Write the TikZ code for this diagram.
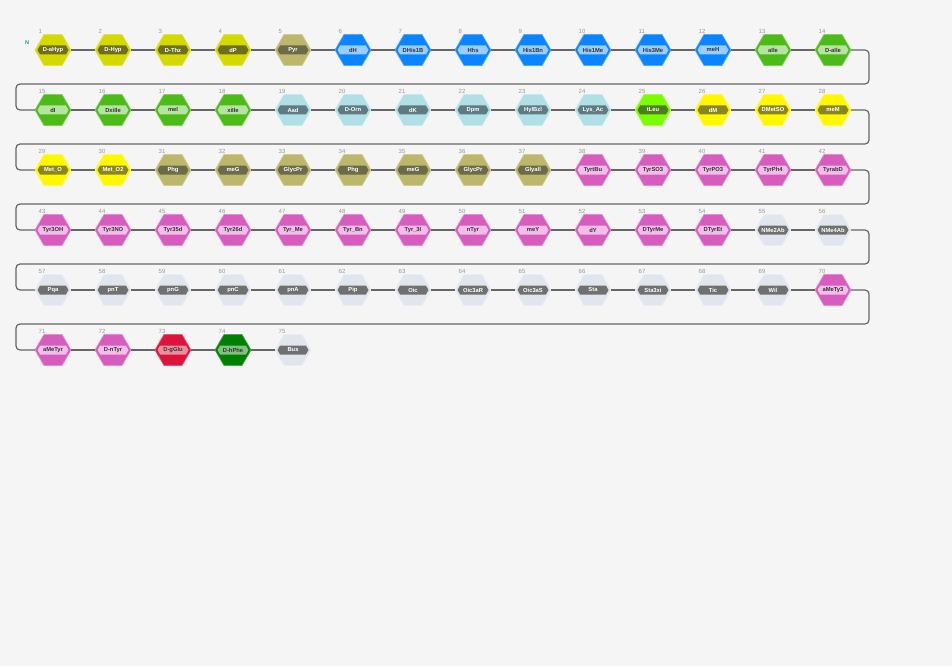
\documentclass[tikz,border=0pt]{standalone}
\usepackage{fontspec}
\setmainfont{Liberation Sans}
\usetikzlibrary{shapes.geometric,shapes.symbols,calc}
\definecolor{bgc}{HTML}{F5F5F5}
\definecolor{linec}{HTML}{666666}
\definecolor{numc}{HTML}{999999}
\definecolor{nterm}{HTML}{1A9A9A}
\definecolor{YGa}{HTML}{D4D900}\definecolor{YGb}{HTML}{6E6E1E}\definecolor{YGc}{HTML}{FFFFFF}
\definecolor{Ka}{HTML}{BDB76B}\definecolor{Kb}{HTML}{6B6B4B}\definecolor{Kc}{HTML}{FFFFFF}
\definecolor{Ba}{HTML}{0A84FF}\definecolor{Bb}{HTML}{99CCFF}\definecolor{Bc}{HTML}{333333}
\definecolor{Ga}{HTML}{4CBB17}\definecolor{Gb}{HTML}{B5E3A0}\definecolor{Gc}{HTML}{333333}
\definecolor{PBa}{HTML}{B0E0E6}\definecolor{PBb}{HTML}{5F7A80}\definecolor{PBc}{HTML}{FFFFFF}
\definecolor{LGa}{HTML}{7CFC00}\definecolor{LGb}{HTML}{4E7F1A}\definecolor{LGc}{HTML}{FFFFFF}
\definecolor{Ya}{HTML}{FFF700}\definecolor{Yb}{HTML}{8A861E}\definecolor{Yc}{HTML}{FFFFFF}
\definecolor{Ma}{HTML}{D65DBD}\definecolor{Mb}{HTML}{F2BDE8}\definecolor{Mc}{HTML}{333333}
\definecolor{Gra}{HTML}{E1E6EE}\definecolor{Grb}{HTML}{707070}\definecolor{Grc}{HTML}{FFFFFF}
\definecolor{Ra}{HTML}{DC143C}\definecolor{Rb}{HTML}{F08CA0}\definecolor{Rc}{HTML}{333333}
\definecolor{DGa}{HTML}{008000}\definecolor{DGb}{HTML}{80C080}\definecolor{DGc}{HTML}{333333}
\tikzset{
  hexa/.style={regular polygon, regular polygon sides=6, minimum size=36pt, inner sep=0pt, outer sep=0pt, line width=0.7pt},
  lbl/.style={shape=signal, signal to=west and east, signal pointer angle=120, minimum width=31pt, minimum height=9pt, inner sep=0pt, font=\bfseries\fontsize{5.8}{6}\selectfont},
  num/.style={inner sep=0pt, text=numc, font=\fontsize{6}{6}\selectfont},
  conn/.style={draw=linec, line width=1.2pt}
}
\begin{document}
\begin{tikzpicture}[x=1pt,y=-1pt]
\useasboundingbox[fill=bgc] (0,0) rectangle (952,666);
\node[inner sep=0pt, text=nterm, font=\bfseries\fontsize{5.5}{6}\selectfont] (N) at (27,43) {N};
\foreach \lab/\st [count=\i] in {
 D-aHyp/YG, D-Hyp/YG, D-Thz/YG, dP/YG, Pyr/K, dH/B, DHis1B/B, Hhs/B, His1Bn/B, His1Me/B, His3Me/B, meH/B, aIle/G, D-aIle/G,
 dI/G, DxiIle/G, meI/G, xiIle/G, Aad/PB, D-Orn/PB, dK/PB, Dpm/PB, HylBzl/PB, Lys\_Ac/PB, tLeu/LG, dM/Y, DMetSO/Y, meM/Y,
 Met\_O/Y, Met\_O2/Y, Phg/K, meG/K, GlycPr/K, Phg/K, meG/K, GlycPr/K, Glyall/K, TyrtBu/M, TyrSO3/M, TyrPO3/M, TyrPh4/M, TyrabD/M,
 Tyr3OH/M, Tyr3NO/M, Tyr35d/M, Tyr26d/M, Tyr\_Me/M, Tyr\_Bn/M, Tyr\_3I/M, nTyr/M, meY/M, dY/M, DTyrMe/M, DTyrEt/M, NMe2Ab/Gr, NMe4Ab/Gr,
 Pqa/Gr, pnT/Gr, pnG/Gr, pnC/Gr, pnA/Gr, Pip/Gr, Oic/Gr, Oic3aR/Gr, Oic3aS/Gr, Sta/Gr, Sta3xi/Gr, Tic/Gr, Wil/Gr, aMeTy3/M,
 aMeTyr/M, D-nTyr/M, D-gGlu/R, D-hPhe/DG, Bus/Gr} {
  \pgfmathtruncatemacro\cc{mod(\i-1,14)}
  \pgfmathtruncatemacro\rr{int((\i-1)/14)}
  \node[hexa, fill=\st a, draw=\st a!70!white] (n\i) at ({53+60*\cc},{50+60*\rr}) {};
  \node[lbl, fill=\st b, text=\st c] (l\i) at (n\i) {\lab};
  \node[num, anchor=base west] (k\i) at ($(n\i)+(-14.5,-16.5)$) {\i};
}
\foreach \i [evaluate=\i as \j using int(\i+1)] in {1,...,74} {
  \pgfmathtruncatemacro\m{mod(\i,14)}
  \ifnum\m=0
    \draw[conn, rounded corners=4pt] (n\i.east) -- ++(18,0) -- ++(0,34) -| ([xshift=-19pt]n\j.west) -- (n\j.west);
  \else
    \draw[conn] (n\i.east) -- (n\j.west);
  \fi
}
\end{tikzpicture}
\end{document}
